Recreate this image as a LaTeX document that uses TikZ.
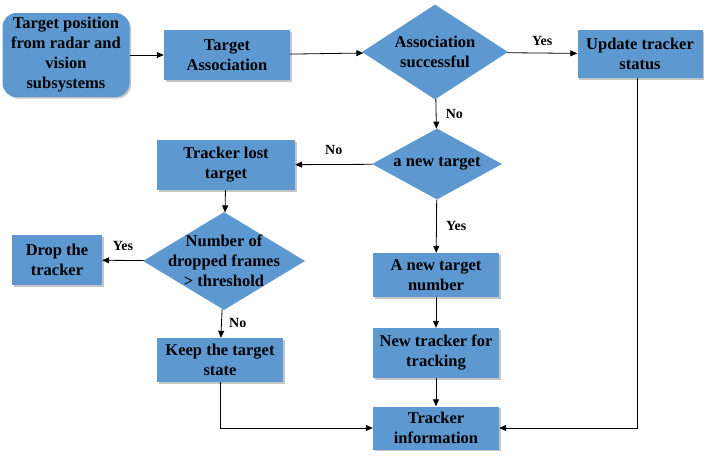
\documentclass[tikz,border=0pt]{standalone}
\usepackage{fontspec}
\setmainfont{Liberation Serif}[BoldFont={Liberation Serif Bold}]
\usepackage{tikz}
\usetikzlibrary{shapes.geometric,shadows,arrows.meta}

\definecolor{boxblue}{RGB}{93,153,208}

\tikzset{
  box/.style={rectangle, fill=boxblue, align=center, font=\rmfamily\bfseries\fontsize{16.5}{20}\selectfont,
    drop shadow={shadow xshift=1.5pt, shadow yshift=-1.5pt, fill=black!45, opacity=0.5}},
  decision/.style={diamond, fill=boxblue, inner sep=0pt},
  dtext/.style={align=center, font=\rmfamily\bfseries\fontsize{16.5}{20}\selectfont},
  lbl/.style={font=\rmfamily\bfseries\fontsize{14}{16}\selectfont},
  arr/.style={-{Triangle[length=7pt,width=6pt]}, line width=0.8pt},
}

\begin{document}
\begin{tikzpicture}[x=1pt,y=-1pt]
\useasboundingbox (0,0) rectangle (706,455);

% top row
\node[box, rounded corners=14pt, minimum width=127, minimum height=84] (src) at (66,55) {Target position\\from radar and\\vision\\subsystems};
\node[box, minimum width=126, minimum height=50] (assoc) at (227,55) {Target\\Association};
\node[decision, minimum width=146, minimum height=95, label={[dtext]center:Association\\successful}] (succ) at (435,52) {};
\node[box, minimum width=125, minimum height=48] (update) at (640,54) {Update tracker\\status};

% middle
\node[decision, minimum width=130, minimum height=71, label={[dtext]center:a new target}] (newtgt) at (437,164) {};
\node[box, minimum width=138, minimum height=50] (lost) at (226,165) {Tracker lost\\target};
\node[decision, minimum width=162, minimum height=98, label={[dtext]center:Number of\\dropped frames\\> threshold}] (frames) at (224,261) {};
\node[box, minimum width=90, minimum height=50] (drop) at (57,260) {Drop the\\tracker};
\node[box, minimum width=126, minimum height=44] (number) at (436,275) {A new target\\number};

% bottom
\node[box, minimum width=126, minimum height=44] (keep) at (220,360) {Keep the target\\state};
\node[box, minimum width=126, minimum height=50] (newtrk) at (436,353) {New tracker for\\tracking};
\node[box, minimum width=126, minimum height=43] (info) at (436,428) {Tracker\\information};

% connectors
\draw[arr] (src) -- (assoc);
\draw[arr] (assoc) -- (succ);
\draw[arr] (succ) -- node[lbl, above, yshift=4pt] (yes1) {Yes} (update);
\draw[arr] (succ) -- node[lbl, right, xshift=6pt] (no1) {No} (newtgt);
\draw[arr] (newtgt) -- node[lbl, above, yshift=6pt] (no2) {No} (lost);
\draw[arr] (newtgt) -- node[lbl, right, xshift=6pt] (yes2) {Yes} (number);
\draw[arr] (lost) -- (frames);
\draw[arr] (frames) -- node[lbl, above, yshift=6pt] (yes3) {Yes} (drop);
\draw[arr] (frames) -- node[lbl, right, xshift=4pt] (no3) {No} (keep);
\draw[arr] (number) -- (newtrk);
\draw[arr] (newtrk) -- (info);
\draw[arr] (keep.south) |- (info.west);
\draw[arr] ([xshift=-3pt]update.south) |- (info.east);
\end{tikzpicture}
\end{document}
